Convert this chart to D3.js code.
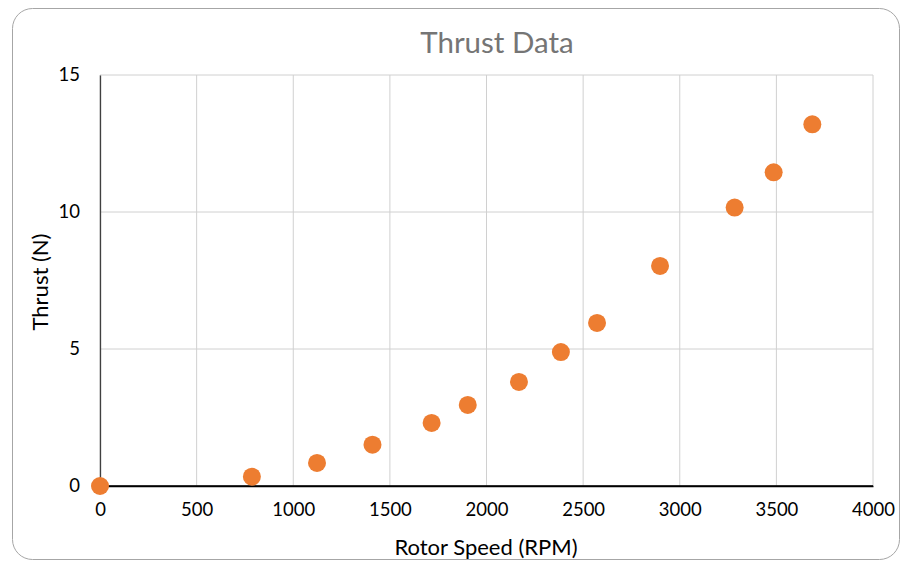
<!DOCTYPE html>
<html>
<head>
<meta charset="utf-8">
<script src="https://cdn.jsdelivr.net/npm/d3@7"></script>
<style>
  body { margin: 0; background: #fff; }
  text { font-family: Lato, "Open Sans", sans-serif; }
</style>
</head>
<body>
<div id="chart"></div>
<script>
let w = 908;
let h = 563;

// data
let rpm    = [0, 786, 1123, 1410, 1716, 1903, 2168, 2385, 2572, 2898, 3284, 3486, 3686];
let thrust = [0, 0.34, 0.84, 1.51, 2.30, 2.96, 3.80, 4.89, 5.95, 8.03, 10.16, 11.45, 13.20];
let xTicks = [0, 500, 1000, 1500, 2000, 2500, 3000, 3500, 4000];
let yTicks = [0, 5, 10, 15];

let points = rpm.map((r, i) => ({ x: r, y: thrust[i] }));

let svg = d3.select("#chart").append("svg")
  .attr("width", w)
  .attr("height", h);

// card border
svg.append("rect")
  .attr("x", 12.5).attr("y", 8.5)
  .attr("width", 887).attr("height", 551)
  .attr("rx", 20)
  .attr("fill", "#fff")
  .attr("stroke", "#a6a6a6")
  .attr("stroke-width", 1);

let xScale = d3.scaleLinear().domain([0, 4000]).range([100, 873]);
let yScale = d3.scaleLinear().domain([0, 15]).range([486, 75]);

// gridlines
svg.append("g").selectAll("line").data(xTicks).enter()
  .append("line")
  .attr("x1", d => xScale(d)).attr("x2", d => xScale(d))
  .attr("y1", yScale(0)).attr("y2", yScale(15))
  .attr("stroke", "#d0d0d0");

svg.append("g").selectAll("line").data(yTicks).enter()
  .append("line")
  .attr("x1", xScale(0)).attr("x2", xScale(4000))
  .attr("y1", d => yScale(d)).attr("y2", d => yScale(d))
  .attr("stroke", "#d0d0d0");

// axes
let xAxis = d3.axisBottom(xScale).tickValues(xTicks).tickSize(0).tickPadding(17)
  .tickFormat(d3.format("d"));
let xAxisGroup = svg.append("g")
  .attr("transform", "translate(0," + yScale(0) + ")")
  .call(xAxis);
xAxisGroup.select(".domain").attr("stroke", "#000").attr("stroke-width", 1.3);
xAxisGroup.selectAll("text").attr("font-size", 18.5).attr("fill", "#000")
  .style("font-family", "Lato, sans-serif");

let yAxis = d3.axisLeft(yScale).tickValues(yTicks).tickSize(0).tickPadding(20)
  .tickFormat(d3.format("d"));
let yAxisGroup = svg.append("g")
  .attr("transform", "translate(" + xScale(0) + ",0)")
  .call(yAxis);
yAxisGroup.select(".domain").attr("stroke", "#404040").attr("stroke-width", 1.3);
yAxisGroup.selectAll("text").attr("font-size", 18.5).attr("fill", "#000")
  .style("font-family", "Lato, sans-serif");

// bottom axis line on top of the left one
svg.append("line")
  .attr("x1", xScale(0)).attr("x2", xScale(4000))
  .attr("y1", yScale(0)).attr("y2", yScale(0))
  .attr("stroke", "#000").attr("stroke-width", 1.3);

// points
svg.selectAll(".datapoint").data(points).enter()
  .append("circle")
  .attr("class", "datapoint")
  .attr("cx", d => xScale(d.x))
  .attr("cy", d => yScale(d.y))
  .attr("r", 9)
  .attr("fill", "#ed7d31");

// titles
svg.append("text")
  .attr("x", 497).attr("y", 53)
  .attr("text-anchor", "middle")
  .attr("font-size", 29.5)
  .attr("fill", "#757575")
  .text("Thrust Data");

svg.append("text")
  .attr("x", 486).attr("y", 555)
  .attr("text-anchor", "middle")
  .attr("font-size", 22)
  .attr("fill", "#000")
  .text("Rotor Speed (RPM)");

svg.append("text")
  .attr("transform", "translate(48,282) rotate(-90)")
  .attr("text-anchor", "middle")
  .attr("font-size", 22)
  .attr("fill", "#000")
  .text("Thrust (N)");
</script>
</body>
</html>
